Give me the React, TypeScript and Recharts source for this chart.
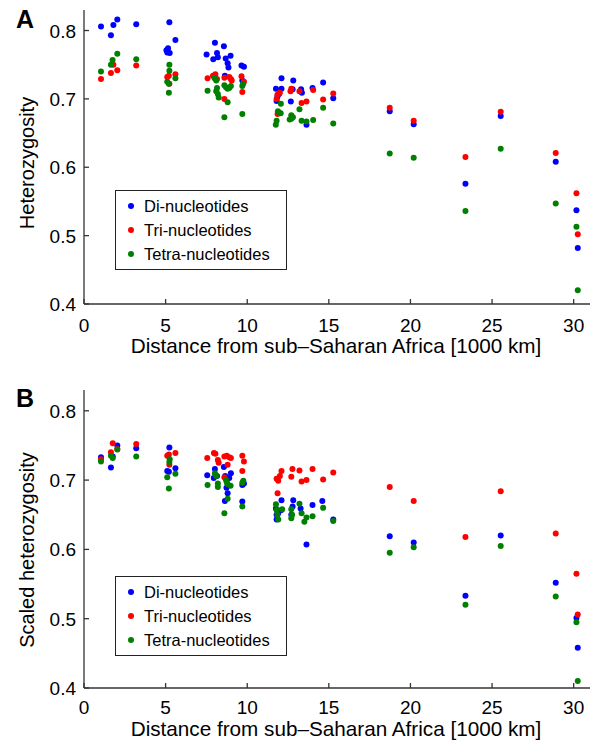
import React from "react";
import { ScatterChart, Scatter, XAxis, YAxis, Legend, Label } from "recharts";

// Panel A: heterozygosity vs distance (x in 1000 km)
const diA: [number, number][] = [
  [1.04, 0.806], [1.65, 0.793], [1.8, 0.808], [2.04, 0.816], [3.2, 0.809],
  [5.23, 0.812], [5.6, 0.786], [5.05, 0.771], [5.15, 0.774], [5.1, 0.768], [5.25, 0.767],
  [8.02, 0.782], [7.51, 0.765], [7.92, 0.758], [8.15, 0.767], [8.2, 0.761], [8.57, 0.777],
  [8.68, 0.759], [8.98, 0.763], [8.8, 0.752], [8.85, 0.746], [9.65, 0.749], [9.8, 0.747],
  [8.63, 0.734], [9.7, 0.727],
  [12.1, 0.73], [12.82, 0.727], [11.76, 0.715], [12.1, 0.715], [12.78, 0.714], [13.3, 0.714],
  [13.35, 0.709], [14.0, 0.716], [14.65, 0.724], [11.85, 0.703], [11.95, 0.707], [11.8, 0.697],
  [12.67, 0.696], [13.63, 0.662], [15.27, 0.701],
  [18.73, 0.682], [20.2, 0.663], [23.37, 0.576], [25.53, 0.675], [28.9, 0.608], [30.17, 0.537], [30.25, 0.482],
];
const triA: [number, number][] = [
  [1.04, 0.729], [1.65, 0.738], [1.8, 0.75], [2.04, 0.742], [3.2, 0.749],
  [5.1, 0.732], [5.2, 0.734], [5.6, 0.736], [5.23, 0.722],
  [7.57, 0.73], [7.9, 0.734], [8.05, 0.736], [8.15, 0.729], [8.6, 0.731], [8.9, 0.732], [9.0, 0.729],
  [9.05, 0.727], [8.6, 0.7], [9.65, 0.733], [9.8, 0.725], [9.7, 0.71],
  [11.85, 0.706], [12.0, 0.709], [12.65, 0.711], [12.7, 0.715], [13.2, 0.711], [13.63, 0.696],
  [13.33, 0.694], [14.04, 0.713], [14.65, 0.699], [11.86, 0.678], [15.27, 0.708], [11.8, 0.7],
  [18.73, 0.687], [20.2, 0.668], [23.37, 0.615], [25.53, 0.681], [28.9, 0.621], [30.17, 0.562], [30.25, 0.502],
];
const tetraA: [number, number][] = [
  [1.04, 0.74], [1.65, 0.75], [1.75, 0.757], [2.04, 0.766], [3.2, 0.758],
  [5.23, 0.75], [5.23, 0.741], [5.6, 0.73], [5.1, 0.725], [5.2, 0.722], [5.2, 0.709],
  [7.57, 0.712], [8.0, 0.73], [8.1, 0.727], [8.15, 0.716], [8.1, 0.711], [8.2, 0.707], [8.6, 0.72],
  [8.7, 0.717], [8.8, 0.715], [8.9, 0.716], [9.0, 0.719], [8.8, 0.695], [8.6, 0.673], [9.7, 0.719],
  [9.75, 0.722], [9.7, 0.678], [8.25, 0.702],
  [12.06, 0.693], [11.88, 0.682], [11.95, 0.68], [12.05, 0.679], [11.8, 0.668], [11.75, 0.662],
  [12.7, 0.676], [12.8, 0.673], [12.6, 0.67], [12.7, 0.671], [13.2, 0.685], [13.33, 0.668],
  [13.63, 0.667], [14.04, 0.669], [14.65, 0.687], [15.27, 0.664],
  [18.73, 0.62], [20.2, 0.614], [23.37, 0.536], [25.53, 0.627], [28.9, 0.547], [30.17, 0.513], [30.25, 0.42],
];

// Panel B: scaled heterozygosity
const diB: [number, number][] = [
  [1.04, 0.733], [1.65, 0.718], [1.76, 0.734], [2.04, 0.75], [3.2, 0.746],
  [5.23, 0.747], [5.6, 0.717], [5.1, 0.713], [5.2, 0.712],
  [7.55, 0.707], [8.02, 0.716], [8.57, 0.719], [7.95, 0.703], [8.15, 0.706], [8.65, 0.706],
  [8.9, 0.703], [9.0, 0.71], [8.73, 0.689], [8.8, 0.681], [8.63, 0.67], [9.7, 0.693], [9.8, 0.695], [9.7, 0.669],
  [12.1, 0.671], [12.82, 0.671], [11.76, 0.659], [12.1, 0.657], [12.78, 0.662], [13.27, 0.659],
  [14.0, 0.664], [14.6, 0.67], [11.8, 0.65], [11.9, 0.652], [11.8, 0.643], [12.7, 0.65], [13.63, 0.607], [15.27, 0.643],
  [18.73, 0.619], [20.2, 0.61], [23.37, 0.533], [25.53, 0.62], [28.9, 0.552], [30.17, 0.501], [30.25, 0.458],
];
const triB: [number, number][] = [
  [1.04, 0.73], [1.65, 0.74], [1.76, 0.753], [2.04, 0.745], [3.2, 0.752],
  [5.1, 0.735], [5.6, 0.739], [5.23, 0.722], [5.2, 0.737],
  [7.55, 0.732], [7.96, 0.739], [8.05, 0.738], [8.2, 0.729], [8.25, 0.725], [8.6, 0.734], [8.75, 0.735],
  [8.9, 0.733], [9.0, 0.732], [8.8, 0.722], [9.7, 0.735], [9.8, 0.727], [9.7, 0.713], [8.6, 0.704],
  [11.8, 0.702], [11.9, 0.699], [12.0, 0.706], [12.1, 0.713], [12.77, 0.716], [12.7, 0.705], [13.2, 0.714],
  [13.33, 0.698], [13.63, 0.7], [14.0, 0.716], [14.65, 0.701], [15.27, 0.711], [11.86, 0.681],
  [18.73, 0.69], [20.2, 0.67], [23.37, 0.618], [25.53, 0.684], [28.9, 0.623], [30.17, 0.565], [30.25, 0.506],
];
const tetraB: [number, number][] = [
  [1.04, 0.727], [1.76, 0.732], [2.04, 0.744], [1.65, 0.735], [3.2, 0.734],
  [5.23, 0.726], [5.25, 0.73], [5.6, 0.709], [5.1, 0.704], [5.2, 0.688],
  [7.57, 0.693], [8.02, 0.71], [8.1, 0.706], [8.2, 0.695], [8.2, 0.69], [8.7, 0.7], [8.75, 0.697],
  [8.8, 0.694], [8.98, 0.692], [8.8, 0.673], [8.6, 0.652], [9.76, 0.699], [9.7, 0.696], [9.7, 0.662],
  [11.76, 0.665], [12.14, 0.658], [11.8, 0.657], [11.85, 0.65], [11.9, 0.643], [13.2, 0.666],
  [12.7, 0.658], [12.75, 0.65], [12.7, 0.645], [13.33, 0.652], [14.0, 0.648], [13.63, 0.646],
  [13.5, 0.64], [14.65, 0.66], [15.27, 0.641],
  [18.73, 0.595], [20.2, 0.603], [23.37, 0.52], [25.53, 0.605], [28.9, 0.532], [30.17, 0.495], [30.25, 0.41],
];

const seriesNames = ["Di-nucleotides", "Tri-nucleotides", "Tetra-nucleotides"];
const seriesColors = ["#0000ff", "#ff0000", "#008000"];
const xTicks = [0, 5, 10, 15, 20, 25, 30];
const yTicks = [0.4, 0.5, 0.6, 0.7, 0.8];
const xTitle = "Distance from sub\u2013Saharan Africa [1000 km]";

const FONT = "'Liberation Sans', Arial, Helvetica, sans-serif";
const AXIS = "#333333";

const toPts = (a: [number, number][]) => a.map(([x, y]) => ({ x, y }));

const makeXTick = (dy: number) => (props: any) => {
  const { x, y, payload } = props;
  return (
    <g>
      <line x1={x} x2={x} y1={y} y2={y - 5} stroke={AXIS} strokeWidth={1.3} />
      <text x={x} y={y + dy} textAnchor="middle" fontSize={19} fontFamily={FONT} fill="#000">
        {payload.value}
      </text>
    </g>
  );
};

const YTick = (props: any) => {
  const { x, y, payload } = props;
  return (
    <g>
      <line x1={x} x2={x + 5} y1={y} y2={y} stroke={AXIS} strokeWidth={1.3} />
      <text x={x - 8} y={y + 7} textAnchor="end" fontSize={19} fontFamily={FONT} fill="#000">
        {Number(payload.value).toFixed(1)}
      </text>
    </g>
  );
};

const Dot = (color: string) => (props: any) => (
  <circle cx={props.cx} cy={props.cy} r={3} fill={color} />
);

const LegendBox = (props: any) => {
  const payload = [...(props.payload || [])].sort(
    (a: any, b: any) => seriesNames.indexOf(a.value) - seriesNames.indexOf(b.value)
  );
  return (
    <div
      style={{
        boxSizing: "border-box",
        width: "100%",
        height: "100%",
        border: "1px solid #222",
        background: "#fff",
        paddingTop: 3,
        fontFamily: FONT,
        fontSize: 16.5,
        color: "#000",
      }}
    >
      {payload.map((e: any, i: number) => (
        <div key={i} style={{ height: 24, display: "flex", alignItems: "center", position: "relative" }}>
          <span
            style={{
              position: "absolute",
              left: 12,
              width: 6,
              height: 6,
              borderRadius: 3,
              background: e.color || (e.payload && e.payload.fill),
            }}
          />
          <span style={{ position: "absolute", left: 28 }}>{e.value}</span>
        </div>
      ))}
    </div>
  );
};

type PanelProps = {
  data: [number, number][][];
  yTitle: string;
  letter: string;
  marginTop: number;
  xAxisHeight: number;
  yTitleY: number;
  letterY: number;
  legendTop: number;
  xTickDy: number;
  xTitleDy: number;
};

const Panel = (p: PanelProps) => {
  const XTick = makeXTick(p.xTickDy);
  return (
    <div style={{ position: "relative", width: 591, height: 372 }}>
      <ScatterChart
        width={591}
        height={372}
        margin={{ top: p.marginTop, right: 1, bottom: 0, left: 0 }}
      >
        <XAxis
          type="number"
          dataKey="x"
          domain={[0, 31]}
          ticks={xTicks}
          allowDataOverflow
          height={p.xAxisHeight}
          tickSize={0}
          tickMargin={0}
          tickLine={false}
          axisLine={{ stroke: AXIS, strokeWidth: 1.3 }}
          tick={<XTick />}
          interval={0}
        >
          <Label
            content={(lp: any) => {
              const vb = lp.viewBox || {};
              return (
                <text
                  x={vb.x + vb.width / 2 - 1}
                  y={vb.y + p.xTitleDy}
                  textAnchor="middle"
                  fontSize={20.7}
                  fontFamily={FONT}
                  fill="#000"
                >
                  {xTitle}
                </text>
              );
            }}
          />
        </XAxis>
        <YAxis
          type="number"
          dataKey="y"
          domain={[0.4, 0.83]}
          ticks={yTicks}
          allowDataOverflow
          width={84}
          tickSize={0}
          tickMargin={0}
          tickLine={false}
          axisLine={{ stroke: AXIS, strokeWidth: 1.3 }}
          tick={<YTick />}
          interval={0}
        >
          <Label
            content={() => (
              <g>
                <text
                  x={34}
                  y={p.yTitleY}
                  transform={`rotate(-90, 34, ${p.yTitleY})`}
                  textAnchor="middle"
                  fontSize={20}
                  fontFamily={FONT}
                  fill="#000"
                >
                  {p.yTitle}
                </text>
                <text x={16} y={p.letterY} fontSize={25} fontWeight="bold" fontFamily={FONT} fill="#000">
                  {p.letter}
                </text>
              </g>
            )}
          />
        </YAxis>
        <Legend
          layout="vertical"
          align="center"
          verticalAlign="middle"
          content={<LegendBox />}
          wrapperStyle={{ position: "absolute", left: 115, top: p.legendTop, width: 172, height: 80 }}
        />
        {p.data.map((d, i) => (
          <Scatter
            key={seriesNames[i]}
            name={seriesNames[i]}
            data={toPts(d)}
            fill={seriesColors[i]}
            shape={Dot(seriesColors[i])}
            isAnimationActive={false}
          />
        ))}
      </ScatterChart>
    </div>
  );
};

export default function App() {
  return (
    <div
      style={{
        position: "absolute",
        left: 0,
        top: 0,
        width: 591,
        height: 744,
        background: "#fff",
        fontFamily: FONT,
      }}
    >
      <Panel
        data={[diA, triA, tetraA]}
        yTitle="Heterozygosity"
        letter="A"
        marginTop={10}
        xAxisHeight={68}
        yTitleY={163}
        letterY={28}
        legendTop={190}
        xTickDy={28}
        xTitleDy={49}
      />
      <Panel
        data={[diB, triB, tetraB]}
        yTitle="Scaled heterozygosity"
        letter="B"
        marginTop={18}
        xAxisHeight={56}
        yTitleY={178}
        letterY={35}
        legendTop={204}
        xTickDy={26}
        xTitleDy={48}
      />
    </div>
  );
}
